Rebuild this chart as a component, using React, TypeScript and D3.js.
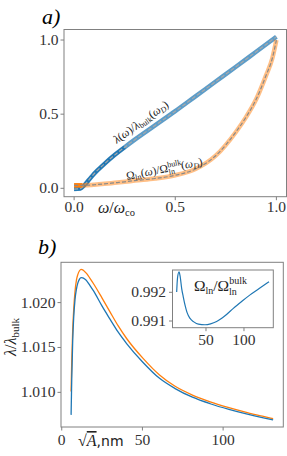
import React from "react";
import * as d3 from "d3";

// ---------- Panel a data ----------
const aOmegaBlue = [0, 0.03, 0.05, 0.075, 0.1, 0.15, 0.2, 0.25, 0.3, 0.4, 0.5, 0.6, 0.7, 0.8, 0.9, 1.0];
const aLambda = [-0.005, -0.002, 0.02, 0.06, 0.1, 0.165, 0.224, 0.277, 0.328, 0.424, 0.52, 0.62, 0.72, 0.82, 0.921, 1.022];
const aOmegaOrange = [0, 0.02, 0.04, 0.06, 0.08, 0.1, 0.15, 0.2, 0.25, 0.3, 0.4, 0.5, 0.6, 0.7, 0.8, 0.85, 0.9, 0.95, 0.98, 1.0];
const aOmegaLn = [0.02, 0.02, 0.02, 0.021, 0.022, 0.024, 0.03, 0.037, 0.044, 0.052, 0.066, 0.088, 0.13, 0.22, 0.38, 0.48, 0.6, 0.765, 0.877, 1.0];
const aXTicks = [0, 0.5, 1.0];
const aYTicks = [0, 0.5, 1.0];

// ---------- Panel b data ----------
const bSqrtA = [5.8, 6.2, 6.8, 7.4, 8.2, 9.1, 10, 11, 12, 13, 14, 15.6, 17.5, 19.7, 25, 29.9, 35, 40.2, 50.4, 60.6, 70, 81, 92, 103.6, 115, 125, 131];
const bOrange = [1.0101, 1.0135, 1.017, 1.0192, 1.0212, 1.0225, 1.02315, 1.02355, 1.0237, 1.02365, 1.0235, 1.0232, 1.0227, 1.0221, 1.0205, 1.01897, 1.0174, 1.016, 1.01378, 1.01193, 1.0107, 1.0097, 1.00895, 1.0083, 1.00775, 1.00732, 1.00707];
const bBlue = [1.00749, 1.0115, 1.0158, 1.0183, 1.0203, 1.0215, 1.0222, 1.02262, 1.02278, 1.02275, 1.02265, 1.0224, 1.0219, 1.0213, 1.0196, 1.01816, 1.0167, 1.01544, 1.01333, 1.01156, 1.01045, 1.00946, 1.00873, 1.0081, 1.00757, 1.00716, 1.00693];
const bXTicks = [0, 50, 100];
const bYTicks = [1.01, 1.015, 1.02];

// ---------- Inset data ----------
const inX = [11.4, 12.5, 14.5, 16, 18, 20, 22.4, 25, 29, 34, 40, 48.7, 56, 64, 75, 86, 97, 108, 120, 133];
const inY = [0.99201, 0.9925, 0.99271, 0.99255, 0.99213, 0.99185, 0.99155, 0.9913, 0.99109, 0.99097, 0.99089, 0.99087, 0.9909, 0.99098, 0.99118, 0.99144, 0.99168, 0.99191, 0.99213, 0.99237];
const inXTicks = [50, 100];
const inYTicks = [0.991, 0.992];

const BLUE = "#1f77b4";
const ORANGE = "#ff7f0e";
const SPINE = "#808080";

export default function App() {
  const ax = d3.scaleLinear().domain([-0.05, 1.05]).range([64, 286.5]);
  const ay = d3.scaleLinear().domain([-0.0566, 1.071]).range([196.7, 29.5]);
  const blueA = aOmegaBlue.map((x, i) => [x, aLambda[i]] as [number, number]);
  const orangeA = aOmegaOrange.map((x, i) => [x, aOmegaLn[i]] as [number, number]);
  const lineA = d3.line<[number, number]>().x(d => ax(d[0])).y(d => ay(d[1])).curve(d3.curveMonotoneX);

  const bx = d3.scaleLinear().domain([-0.46, 137.3]).range([61, 283.3]);
  const by = d3.scaleLinear().domain([1.00614, 1.02449]).range([427, 262.3]);
  const lineB = d3.line<number>().x((_, i) => bx(bSqrtA[i])).y(d => by(d)).curve(d3.curveMonotoneX);

  const ix = d3.scaleLinear().domain([5.9, 138.6]).range([172.5, 273.3]);
  const iy = d3.scaleLinear().domain([0.990767, 0.992777]).range([327.7, 270]);
  const lineI = d3.line<number>().x((_, i) => ix(inX[i])).y(d => iy(d)).curve(d3.curveMonotoneX);

  const tickFmtA = d3.format(".1f");
  const tickFmtB = d3.format(".3f");

  return (
    <svg width={287} height={456} fontFamily="Liberation Serif" style={{ position: "absolute", left: 0, top: 0, background: "#fff" }}>
      {/* ---------------- Panel a ---------------- */}
      <text x={42} y={24} fontSize={22} fontStyle="italic">a)</text>
      <path d={lineA(blueA) || ""} fill="none" stroke={BLUE} strokeOpacity={0.72} strokeWidth={4.5} />
      <path d={lineA(blueA.filter(d => d[0] <= 0.25)) || ""} fill="none" stroke={BLUE} strokeWidth={3.8} />
      <path d={lineA(blueA) || ""} fill="none" stroke="#a8a8a8" strokeWidth={1.2} strokeDasharray="4,2" />
      <path d={lineA(orangeA) || ""} fill="none" stroke={ORANGE} strokeOpacity={0.5} strokeWidth={4.5} />
      <path d={lineA(orangeA.filter(d => d[0] <= 0.05)) || ""} fill="none" stroke={ORANGE} strokeWidth={4.5} />
      <path d={lineA(orangeA) || ""} fill="none" stroke="#8a8a8a" strokeWidth={1.2} strokeDasharray="4,2" />
      <text transform="translate(143,125) rotate(-35.5)" fontSize={11.5} textAnchor="middle" fill="#222">
        <tspan fontStyle="italic">λ</tspan>(<tspan fontStyle="italic">ω</tspan>)/<tspan fontStyle="italic">λ</tspan>
        <tspan fontSize={8} dy={2}>bulk</tspan>
        <tspan dy={-2}>(</tspan><tspan fontStyle="italic">ω</tspan><tspan fontSize={8} fontStyle="italic" dy={2}>D</tspan><tspan dy={-2}>)</tspan>
      </text>
      <text transform="translate(165,172.5) rotate(-11)" fontSize={11.5} textAnchor="middle" fill="#222">
        Ω<tspan fontSize={8} dy={2}>ln</tspan>
        <tspan dy={-2}>(</tspan><tspan fontStyle="italic">ω</tspan>)/Ω
        <tspan fontSize={8} dy={-4.5}>bulk</tspan>
        <tspan fontSize={8} dx={-14} dy={7.5}>ln</tspan>
        <tspan dx={7} dy={-3}>(</tspan><tspan fontStyle="italic">ω</tspan><tspan fontSize={8} fontStyle="italic" dy={2}>D</tspan><tspan dy={-2}>)</tspan>
      </text>
      <rect x={64} y={29.5} width={222.5} height={167.2} fill="none" stroke={SPINE} strokeWidth={1} />
      {aYTicks.map(t => (
        <g key={"ay" + t}>
          <line x1={60.5} x2={64} y1={ay(t)} y2={ay(t)} stroke={SPINE} />
          <text x={58.5} y={ay(t) + 5} fontSize={15.5} textAnchor="end" fill="#333">{tickFmtA(t)}</text>
        </g>
      ))}
      {aXTicks.map(t => (
        <g key={"ax" + t}>
          <line x1={ax(t)} x2={ax(t)} y1={196.7} y2={200.2} stroke={SPINE} />
          <text x={ax(t)} y={212} fontSize={15.5} textAnchor="middle" fill="#333">{tickFmtA(t)}</text>
        </g>
      ))}
      <text x={98} y={213} fontSize={16} fill="#222">
        <tspan fontStyle="italic">ω</tspan>/<tspan fontStyle="italic">ω</tspan><tspan fontSize={10.5} dy={3}>co</tspan>
      </text>

      {/* ---------------- Panel b ---------------- */}
      <text x={38} y={254} fontSize={22} fontStyle="italic">b)</text>
      <path d={lineB(bOrange) || ""} fill="none" stroke={ORANGE} strokeWidth={1.3} />
      <path d={lineB(bBlue) || ""} fill="none" stroke={BLUE} strokeWidth={1.3} />
      <rect x={61} y={262.3} width={222.3} height={164.7} fill="none" stroke={SPINE} strokeWidth={1} />
      {bYTicks.map(t => (
        <g key={"by" + t}>
          <line x1={57.5} x2={61} y1={by(t)} y2={by(t)} stroke={SPINE} />
          <text x={55.5} y={by(t) + 5} fontSize={15.5} textAnchor="end" fill="#333">{tickFmtB(t)}</text>
        </g>
      ))}
      {bXTicks.map(t => (
        <g key={"bx" + t}>
          <line x1={bx(t)} x2={bx(t)} y1={427} y2={430.5} stroke={SPINE} />
          <text x={bx(t)} y={445} fontSize={15.5} textAnchor="middle" fill="#333">{t}</text>
        </g>
      ))}
      <text transform="translate(16,337) rotate(-90)" fontSize={16} textAnchor="middle" fill="#222">
        <tspan fontStyle="italic">λ</tspan>/<tspan fontStyle="italic">λ</tspan><tspan fontSize={11} dy={3}>bulk</tspan>
      </text>
      <text x={78} y={446} fontSize={16} fill="#222">
        √<tspan fontStyle="italic" textDecoration="overline">A</tspan><tspan fontFamily="DejaVu Sans" fontSize={14}>,nm</tspan>
      </text>

      {/* ---------------- Inset ---------------- */}
      <rect x={172.5} y={270} width={100.8} height={57.7} fill="#fff" stroke={SPINE} strokeWidth={1} />
      <path d={lineI(inY) || ""} fill="none" stroke={BLUE} strokeWidth={1.2} />
      {inYTicks.map(t => (
        <g key={"iy" + t}>
          <line x1={169} x2={172.5} y1={iy(t)} y2={iy(t)} stroke={SPINE} />
          <text x={166} y={iy(t) + 5} fontSize={15.5} textAnchor="end" fill="#333">{tickFmtB(t)}</text>
        </g>
      ))}
      {inXTicks.map(t => (
        <g key={"ix" + t}>
          <line x1={ix(t)} x2={ix(t)} y1={327.7} y2={331.2} stroke={SPINE} />
          <text x={ix(t)} y={345} fontSize={15.5} textAnchor="middle" fill="#333">{t}</text>
        </g>
      ))}
      <text x={194} y={291} fontSize={15.5} fill="#222">
        Ω<tspan fontSize={10} dy={3}>ln</tspan><tspan dy={-3}>/Ω</tspan>
        <tspan fontSize={10} dy={-7}>bulk</tspan>
        <tspan fontSize={10} dx={-18} dy={11}>ln</tspan>
      </text>
    </svg>
  );
}
